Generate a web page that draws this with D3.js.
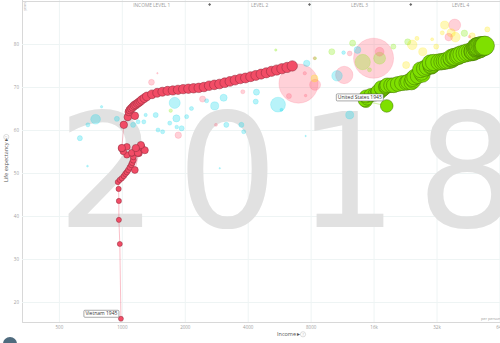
<!DOCTYPE html>
<html>
<head>
<meta charset="utf-8">
<script src="https://cdn.jsdelivr.net/npm/d3@7/dist/d3.min.js"></script>
<style>
  body { margin: 0; background: #fff; overflow: hidden; }
  svg { display: block; font-family: "Open Sans", sans-serif; }
</style>
</head>
<body>
<div id="chart"></div>
<script>
// ---- data ----
const firstYear = 1945;
const yearLabel = '2018';

const vnIncome = [990, 978, 968, 968, 965, 957, 978, 1000, 1022, 1040,
  1057, 1074, 1092, 1110, 1122, 1135, 1135, 1116, 1057, 1016,
  1000, 1057, 1116, 1154, 1206, 1240, 1288, 1193, 1233, 1167,
  1000, 1022, 1068, 1154, 1080, 1092, 1110, 1129, 1147, 1167,
  1186, 1206, 1226, 1246, 1281, 1317, 1394, 1476, 1563, 1655,
  1753, 1856, 1965, 2081, 2203, 2333, 2470, 2616, 2770, 2933,
  3106, 3289, 3482, 3687, 3904, 4134, 4378, 4636, 4909, 5198,
  5504, 5829, 6172, 6535];
const vnLife = [16.1, 33.5, 39.1, 43.5, 46.3, 47.9, 48.4, 48.8, 49.3, 49.8,
  50.2, 50.7, 51.3, 51.9, 52.4, 53.0, 53.8, 54.6, 54.2, 55.0,
  55.7, 56.1, 54.7, 50.7, 54.6, 56.1, 55.3, 54.7, 56.5, 55.8,
  55.8, 61.2, 63.0, 63.3, 64.2, 64.65, 65.0, 65.35, 65.7, 65.9,
  66.2, 66.4, 66.7, 67.0, 67.4, 67.8, 68.3, 68.65, 68.9, 69.1,
  69.2, 69.35, 69.5, 69.6, 69.7, 69.8, 70.0, 70.3, 70.5, 70.7,
  71.0, 71.3, 71.6, 71.9, 72.1, 72.4, 72.7, 73.0, 73.3, 73.65,
  73.95, 74.25, 74.55, 74.9];
const vnPop = [22.0, 22.5, 23.0, 23.6, 24.2, 24.8, 25.3, 25.8, 26.4, 27.0,
  27.6, 28.3, 29.0, 29.9, 30.9, 32.7, 33.7, 34.7, 35.7, 36.8,
  37.8, 38.9, 40.0, 41.1, 42.2, 43.4, 44.5, 45.6, 46.7, 47.7,
  48.7, 49.8, 50.9, 52.0, 53.1, 54.3, 55.5, 56.8, 58.1, 59.5,
  60.9, 62.4, 63.8, 65.2, 66.6, 68.0, 69.5, 71.0, 72.5, 73.9,
  75.2, 76.3, 77.3, 78.2, 79.1, 80.0, 80.7, 81.5, 82.3, 83.1,
  83.8, 84.6, 85.4, 86.2, 87.1, 87.9, 88.9, 89.8, 90.8, 91.7,
  92.7, 93.6, 94.6, 95.5];

const usIncome = [18500, 14700, 14500, 14900, 14700, 15500, 16200, 16600, 17100, 16800,
  17600, 17700, 17800, 17400, 18300, 18400, 18600, 19400, 20000, 20900,
  21900, 23000, 23400, 24300, 24800, 24600, 25100, 26100, 27400, 27100,
  26800, 28000, 28900, 30100, 30500, 30200, 30600, 29900, 31000, 32900,
  34000, 34900, 35700, 36800, 37800, 38100, 37700, 38700, 39300, 40500,
  41100, 42200, 43700, 45000, 46400, 47800, 47800, 48100, 49000, 50000,
  50500, 51500, 51900, 51400, 49500, 50000, 50300, 50800, 51300, 52100,
  52900, 53400, 54000, 54500];
const usLife = [65.6, 66.7, 66.9, 67.3, 67.8, 68.1, 68.3, 68.5, 68.7, 69.0,
  69.3, 69.5, 69.6, 69.8, 70.0, 70.2, 70.4, 70.4, 70.4, 70.7,
  70.9, 71.0, 71.2, 71.1, 71.5, 71.9, 72.3, 72.6, 72.9, 73.4,
  74.0, 74.3, 74.6, 74.8, 75.0, 75.0, 75.3, 75.6, 75.7, 75.8,
  75.9, 76.0, 76.1, 76.2, 76.4, 76.6, 76.8, 77.0, 77.0, 77.2,
  77.4, 77.6, 77.8, 78.0, 78.1, 78.2, 78.3, 78.4, 78.5, 78.7,
  78.8, 78.9, 79.0, 79.1, 79.2, 79.3, 79.3, 79.4, 79.4, 79.5,
  79.5, 79.5, 79.5, 79.6];
const usPop = [140, 141, 144, 147, 149, 158, 160, 163, 166, 169,
  172, 175, 178, 181, 184, 186, 189, 192, 195, 197,
  200, 202, 204, 206, 208, 210, 212, 214, 216, 218,
  220, 222, 224, 226, 228, 230, 232, 234, 236, 238,
  240, 242, 244, 246, 248, 252, 255, 258, 262, 265,
  268, 271, 275, 278, 281, 284, 287, 290, 292, 295,
  297, 300, 303, 306, 308, 311, 313, 315, 317, 319,
  321, 323, 325, 327];

// other countries, 2018
const bgIncome = [749, 688, 630, 800, 685, 947, 1790, 1452, 1824, 1695,
  1932, 2041, 2153, 2781, 3068, 3160, 3730, 3826, 4370, 4405,
  5585, 5800, 1132, 1196, 1274, 2545, 1490, 1567, 2940, 7570,
  12300, 10700, 7660, 11500, 13400, 1830, 1300,
  16000, 7000, 11580, 1862, 1386, 2433, 1480, 3790, 6300, 2820,
  39100, 36600, 17100, 12300, 8350, 46000, 7500, 8400, 7570,
  14200, 5450, 10100, 12700, 19900, 23300, 43500, 8400, 1713, 4560, 15300, 17100,
  8350, 24500, 25800, 27500, 30500, 31900, 34100, 37600, 39400, 47400,
  48000, 56000, 35000, 31900, 22900];
const bgLife = [62.5, 61.2, 58.1, 65.4, 51.6, 62.6, 66.3, 63.5, 62.7, 61.6,
  60.4, 63.1, 65.0, 65.6, 67.5, 61.2, 61.2, 59.6, 66.6, 68.8,
  65.9, 64.7, 61.2, 61.9, 61.9, 66.8, 60.0, 59.6, 51.1, 58.6,
  63.5, 72.6, 75.5, 78.0, 78.6, 60.7, 63.5,
  76.7, 70.8, 72.8, 58.8, 71.1, 67.2, 73.2, 68.9, 67.9, 61.2,
  84.4, 81.6, 78.2, 77.8, 76.7, 81.7, 73.2, 70.5, 68.0,
  75.8, 78.6, 78.2, 80.2, 79.4, 80.5, 82.5, 76.7, 64.5, 73.2, 74.0, 76.7,
  72.0, 79.8, 81.3, 78.2, 81.1, 79.4, 82.6, 82.6, 81.6, 81.9,
  80.5, 83.4, 84.4, 77.0, 75.1];
const bgPop = [84, 15, 23, 5, 3, 23, 109, 23, 45, 15,
  23, 15, 15, 59, 45, 23, 23, 15, 23, 33,
  196, 8, 23, 15, 15, 15, 15, 15, 2, 2,
  57, 99, 36, 12, 42, 12, 10,
  1415, 1354, 267, 37, 30, 33, 2, 15, 23, 8,
  127, 51, 69, 21, 8, 5, 10, 107, 6,
  209, 5, 33, 33, 23, 33, 37, 8, 11, 6, 15, 126,
  44, 82, 15, 59, 8, 23, 15, 59, 83, 33,
  15, 23, 59, 33, 45];
const bgRegion = [
  'af','af','af','af','af','af','af','af','af','af',
  'af','af','af','af','af','af','af','af','af','af',
  'af','af','af','af','af','af','af','af','af','af',
  'af','af','af','af','af','af','af',
  'as','as','as','as','as','as','as','as','as','as',
  'as','as','as','as','as','as','as','as','as',
  'am','am','am','am','am','am','am','am','am','am','am','am',
  'eu','eu','eu','eu','eu','eu','eu','eu','eu','eu',
  'eu','eu','eu','eu','eu'];

const regionColor = { af: '#00d5e9', as: '#ff5872', am: '#7feb00', eu: '#ffe700' };

const xTicks = [500, 1000, 2000, 4000, 8000, 16000, 32000, 64000];
const xTickLabels = ['500', '1000', '2000', '4000', '8000', '16k', '32k', '64k'];
const yTicks = [20, 30, 40, 50, 60, 70, 80];

const levelBreaks = [2630, 7900, 24100];
const levelPos = [1390, 4560, 13700, 41700];
const levelLabels = ['INCOME LEVEL 1', 'LEVEL 2', 'LEVEL 3', 'LEVEL 4'];

// ---- chart ----
const W = 500, H = 343;
const svg = d3.select('#chart').append('svg').attr('width', W).attr('height', H);

const x = d3.scaleLog().domain([333, 64400]).range([22, 500]);
const y = d3.scaleLinear().domain([15.35, 90]).range([322, 1]);
const r = d3.scaleSqrt().domain([0, 1415]).range([0, 20]);

// axes + grid
const xAxis = svg.append('g')
  .attr('transform', 'translate(0,322)')
  .call(d3.axisBottom(x).tickValues(xTicks)
    .tickFormat((d, i) => xTickLabels[i]).tickSize(-322).tickPadding(4));
const yAxis = svg.append('g')
  .attr('transform', 'translate(22,0)')
  .call(d3.axisLeft(y).tickValues(yTicks).tickSize(-478).tickPadding(3));
[xAxis, yAxis].forEach(a => {
  a.select('.domain').attr('stroke', '#d8d8d8');
  a.selectAll('.tick line').attr('stroke', '#eef4f4');
  a.selectAll('.tick text').attr('fill', '#a0a0a0').style('font-size', '4.5px')
    .style('font-family', '"Open Sans", sans-serif');
});

// big year label, sized from the glyph ink so it fills the same box
const yearFont = '"DejaVu Sans"';
const ctx = document.createElement('canvas').getContext('2d');
ctx.font = `100px ${yearFont}`;
const m0 = ctx.measureText('0');
const m2 = ctx.measureText('2');
const fs = 100 * 119 / m0.actualBoundingBoxAscent;
const k = fs / 100;
const adv = m0.width * k;
const lead = -m2.actualBoundingBoxLeft * k;
svg.append('text')
  .attr('x', 68 - lead).attr('y', 227)
  .attr('fill', '#e1e1e1')
  .style('font-family', yearFont)
  .style('font-size', fs + 'px')
  .style('letter-spacing', (120 - adv) + 'px')
  .text(yearLabel);

// income level header
svg.append('g').selectAll('text').data(levelLabels).join('text')
  .attr('x', (d, i) => x(levelPos[i])).attr('y', 6.5)
  .attr('text-anchor', 'middle').attr('fill', '#9a9a9a')
  .style('font-size', '4.8px')
  .text(d => d);
svg.append('g').selectAll('path').data(levelBreaks).join('path')
  .attr('transform', d => `translate(${x(d)},4.6)`)
  .attr('d', 'M0,-1.5L1.5,0L0,1.5L-1.5,0Z')
  .attr('fill', '#666');

// background bubbles
const bg = bgIncome.map((v, i) => ({ inc: v, life: bgLife[i], pop: bgPop[i], reg: bgRegion[i] }))
  .sort((a, b) => b.pop - a.pop);
svg.append('g').selectAll('circle').data(bg).join('circle')
  .attr('cx', d => x(d.inc)).attr('cy', d => y(d.life)).attr('r', d => r(d.pop))
  .attr('fill', d => regionColor[d.reg]).attr('fill-opacity', 0.28)
  .attr('stroke', d => regionColor[d.reg]).attr('stroke-opacity', 0.35).attr('stroke-width', 0.5);

// trails
function trail(inc, life, pop, color, stroke) {
  const pts = inc.map((v, i) => ({ inc: v, life: life[i], pop: pop[i], year: firstYear + i }));
  const g = svg.append('g');
  g.append('path').datum(pts)
    .attr('d', d3.line().x(d => x(d.inc)).y(d => y(d.life)))
    .attr('fill', 'none').attr('stroke', color).attr('stroke-opacity', 0.45).attr('stroke-width', 0.8);
  g.selectAll('circle').data(pts).join('circle')
    .attr('cx', d => x(d.inc)).attr('cy', d => y(d.life)).attr('r', d => r(d.pop))
    .attr('fill', color).attr('stroke', stroke).attr('stroke-width', 0.5);
  return pts[0];
}
const vn0 = trail(vnIncome, vnLife, vnPop, '#f24c66', '#8a2a3a');
const us0 = trail(usIncome, usLife, usPop, '#7fe000', '#3f7000');

function label(p, text, dx, dy) {
  const g = svg.append('g');
  const t = g.append('text').attr('fill', '#333').style('font-size', '5px').text(text);
  const w = t.node().getComputedTextLength();
  const bx = x(p.inc) + dx - w - 3, by = y(p.life) + dy - 7;
  t.attr('x', bx + 1.5).attr('y', by + 5.2);
  g.insert('rect', 'text').attr('x', bx).attr('y', by).attr('width', w + 3).attr('height', 7)
    .attr('rx', 1).attr('fill', '#fff').attr('stroke', '#555').attr('stroke-width', 0.5);
}
label(vn0, 'Vietnam 1945', -2, -1.5);
label(us0, 'United States 1945', -3.5, -5);

// axis titles
svg.append('text').attr('x', 277).attr('y', 336).attr('fill', '#555')
  .style('font-size', '5.5px').text('Income \u25B8');
svg.append('circle').attr('cx', 303).attr('cy', 334.3).attr('r', 2.6)
  .attr('fill', 'none').attr('stroke', '#bbb').attr('stroke-width', 0.5);
svg.append('text').attr('x', 303).attr('y', 335.8).attr('text-anchor', 'middle')
  .attr('fill', '#bbb').style('font-size', '4px').text('?');

svg.append('text').attr('transform', 'translate(8,182) rotate(-90)').attr('fill', '#555')
  .style('font-size', '5.5px').text('Life expectancy \u25B8');
svg.append('circle').attr('cx', 6.3).attr('cy', 137).attr('r', 2.6)
  .attr('fill', 'none').attr('stroke', '#bbb').attr('stroke-width', 0.5);
svg.append('text').attr('transform', 'translate(7.8,137) rotate(-90)').attr('text-anchor', 'middle')
  .attr('fill', '#bbb').style('font-size', '4px').text('?');

svg.append('text').attr('transform', 'translate(25.5,2) rotate(-90)').attr('text-anchor', 'end')
  .attr('fill', '#aaa').style('font-size', '3.5px').text('years');
svg.append('text').attr('x', 481).attr('y', 320).attr('fill', '#999')
  .style('font-size', '3.8px').text('per person ($');

// play button stub
svg.append('circle').attr('cx', 10).attr('cy', 344).attr('r', 7).attr('fill', '#4f6b7e');
</script>
</body>
</html>
